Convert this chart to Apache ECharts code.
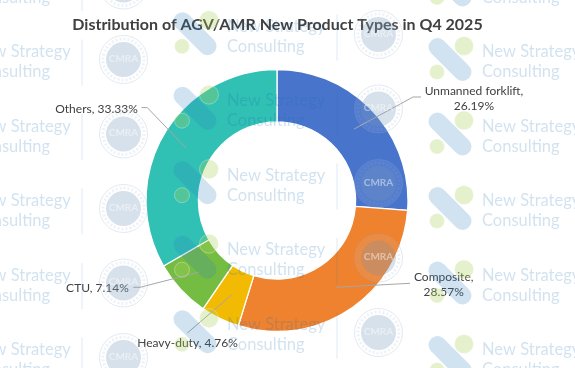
<!DOCTYPE html>
<html><head><meta charset="utf-8">
<script src="https://cdn.jsdelivr.net/npm/echarts@6/dist/echarts.min.js"></script>
<style>html,body{margin:0;padding:0;background:#fff}#c{width:575px;height:368px}</style></head>
<body><div id="c"></div>
<script>
const titleText = 'Distribution of AGV/AMR New Product Types in Q4 2025';
const categories = ['Unmanned forklift', 'Composite', 'Heavy-duty', 'CTU', 'Others'];
const shares = [26.19, 28.57, 4.76, 7.14, 33.33];
const colors = ['#4874CB', '#EE822F', '#F2BA02', '#75BD42', '#30C0B4'];
const labelBreaks = ['\n', '\n', ' ', ' ', ' '];
const labelCentres = [[474, 98.5], [443.7, 284.7], [187.5, 343.3], [97.5, 288], [96.5, 108.7]];
const leaderBends = [[[413, 97], [421, 97]], [[410, 283.3]], [[187.3, 333]], [[140, 287.3], [133.3, 287.3]], [[147.3, 107.6], [141.5, 107.6]]];
const centre = [277, 200.5], outerR = 131, innerR = 78.6, midR = 105;

const wm = '#1a6fb5', wmA = 0.2;
function watermark() {
  const out = [], stepY = 74.5;
  const txt = (x, y, text) => ({ type: 'text', z: 100, silent: true, style: { x, y, text, fill: wm, opacity: wmA, font: '16.5px Lato', textVerticalAlign: 'middle' } });
  [[-27.5, 52], [227, 26.2], [482, 52]].forEach(([tx, ty]) => {
    for (let k = -1; k < 6; k++) {
      const y = ty + k * stepY, bx = tx - 32, by = y + 7.5;
      out.push({ type: 'line', z: 100, silent: true, shape: { x1: bx - 12.5, y1: by - 12.5, x2: bx + 12.5, y2: by + 12.5 }, style: { stroke: '#2f80c0', lineWidth: 18, lineCap: 'round', opacity: 0.22 } });
      out.push({ type: 'circle', z: 100, silent: true, shape: { cx: bx + 14, cy: by - 13.5, r: 9.5 }, style: { fill: '#a8cf5a', opacity: 0.3, stroke: '#fff', lineWidth: 1 } });
      out.push({ type: 'circle', z: 100, silent: true, shape: { cx: bx - 13, cy: by + 12.5, r: 7.5 }, style: { fill: '#a8cf5a', opacity: 0.3, stroke: '#fff', lineWidth: 1 } });
      out.push(txt(tx, y, 'New Strategy'));
      out.push(txt(tx, y + 20, 'Consulting'));
    }
  });
  [[82, 62.5], [337, 37.5]].forEach(([sx, sy]) => {
    for (let k = -1; k < 6; k++) {
      const y = sy + k * stepY, lx = sx + 41.5, ly = y - 3;
      out.push({ type: 'line', z: 100, silent: true, shape: { x1: sx, y1: y - 23, x2: sx, y2: y + 23 }, style: { stroke: wm, lineWidth: 1, opacity: 0.15 } });
      out.push({ type: 'circle', z: 100, silent: true, shape: { cx: lx, cy: ly, r: 24 }, style: { fill: '#ffffff', opacity: 0.08 } });
      out.push({ type: 'circle', z: 100, silent: true, shape: { cx: lx, cy: ly, r: 24 }, style: { fill: null, stroke: '#8fa8c8', lineWidth: 1, opacity: 0.25 } });
      out.push({ type: 'circle', z: 100, silent: true, shape: { cx: lx, cy: ly, r: 20.5 }, style: { fill: null, stroke: '#8fa8c8', lineWidth: 3, lineDash: [2, 2], opacity: 0.15 } });
      out.push({ type: 'circle', z: 100, silent: true, shape: { cx: lx, cy: ly, r: 17.5 }, style: { fill: '#6f94b8', opacity: 0.28 } });
      out.push({ type: 'text', z: 100, silent: true, style: { x: lx, y: ly - 1, text: 'CMRA', fill: '#fff', opacity: 0.45, font: 'bold 10px Lato', textAlign: 'center', textVerticalAlign: 'middle' } });
    }
  });
  return out;
}

const chart = echarts.init(document.getElementById('c'), null, { renderer: 'canvas' });
const total = shares.reduce((a, b) => a + b, 0);
chart.setOption({
  animation: false,
  backgroundColor: '#fff',
  title: { text: titleText, left: 272.5, top: 12, textAlign: 'center', textStyle: { fontFamily: 'Lato', fontWeight: 'bold', fontSize: 16, color: '#404040' } },
  graphic: { elements: watermark() },
  series: [{
    type: 'pie', z: 2, silent: true,
    center: centre, radius: [innerR, outerR], startAngle: 90, clockwise: true, avoidLabelOverlap: false,
    itemStyle: { borderColor: '#fff', borderWidth: 1.3 },
    data: categories.map((name, i) => ({ name, value: shares[i], itemStyle: { color: colors[i] } })),
    label: {
      show: true, position: 'outside', fontFamily: 'Lato', fontSize: 12, color: '#404040', lineHeight: 15.3, align: 'center',
      formatter: p => p.name + ',' + labelBreaks[p.dataIndex] + p.value.toFixed(2) + '%'
    },
    labelLine: { show: false },
    labelLayout: p => ({ x: labelCentres[p.dataIndex][0], y: labelCentres[p.dataIndex][1], align: 'center', verticalAlign: 'middle' })
  }, {
    type: 'custom', coordinateSystem: 'none', silent: true, z: 3,
    data: shares.map((v, i) => [v, i]),
    renderItem: (params, api) => {
      const i = api.value(1);
      let before = 0;
      for (let j = 0; j < i; j++) before += shares[j];
      const a = (before + api.value(0) / 2) / total * 2 * Math.PI;
      const start = [centre[0] + midR * Math.sin(a), centre[1] - midR * Math.cos(a)];
      return { type: 'polyline', shape: { points: [start].concat(leaderBends[i]) }, style: { stroke: '#a6a6a6', lineWidth: 1, fill: null } };
    }
  }]
});
</script></body></html>
